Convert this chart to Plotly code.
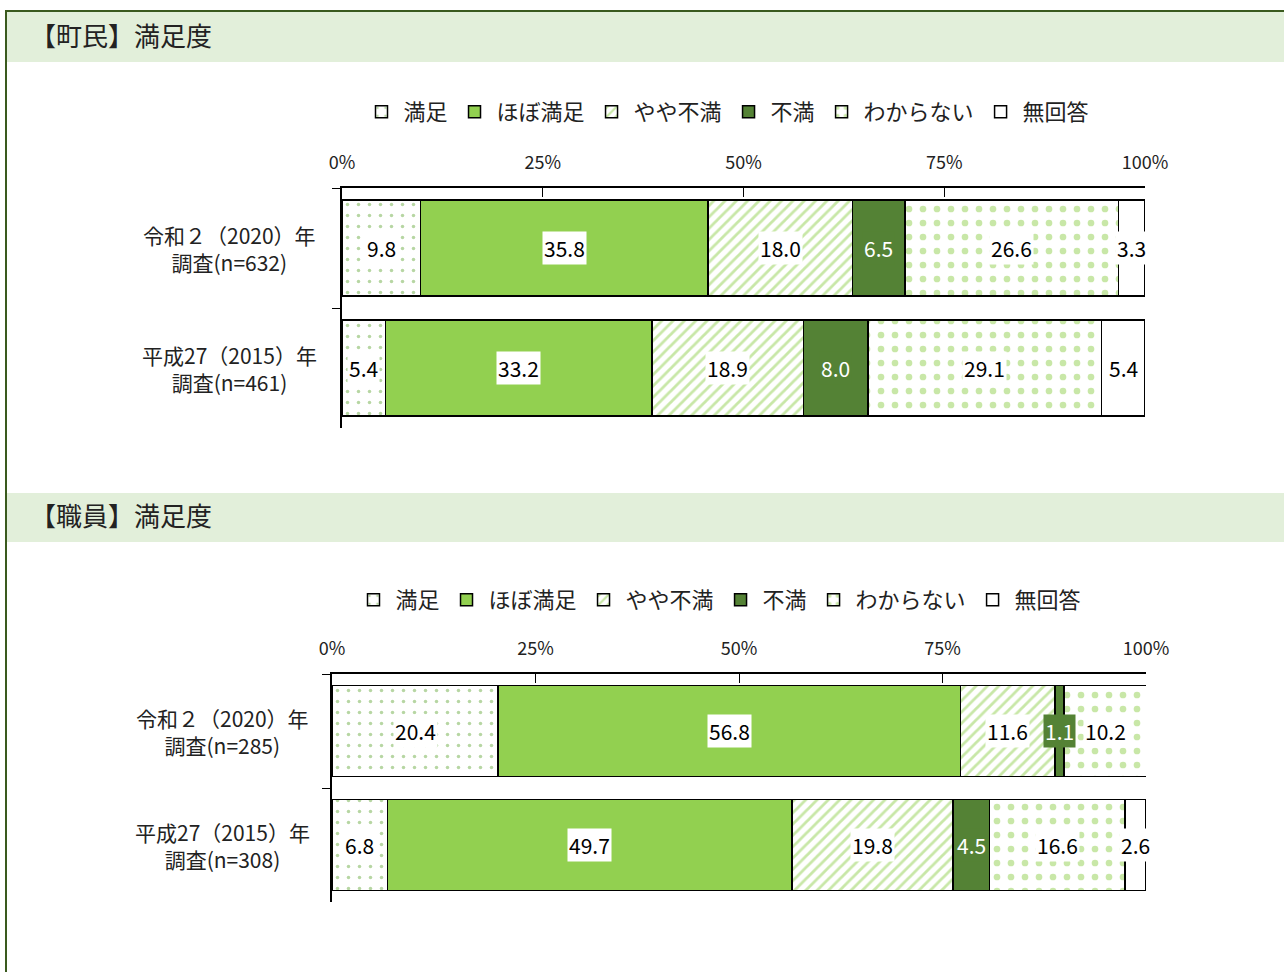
import plotly.graph_objects as go

categories = ["満足", "ほぼ満足", "やや不満", "不満", "わからない", "無回答"]

town_rows = ["r2020", "h2015"]
town_row_labels = ["令和２（2020）年<br>調査(n=632)", "平成27（2015）年<br>調査(n=461)"]
town_values = {
    "満足": [9.8, 5.4],
    "ほぼ満足": [35.8, 33.2],
    "やや不満": [18.0, 18.9],
    "不満": [6.5, 8.0],
    "わからない": [26.6, 29.1],
    "無回答": [3.3, 5.4],
}

staff_rows = ["r2020", "h2015"]
staff_row_labels = ["令和２（2020）年<br>調査(n=285)", "平成27（2015）年<br>調査(n=308)"]
staff_values = {
    "満足": [20.4, 6.8],
    "ほぼ満足": [56.8, 49.7],
    "やや不満": [11.6, 19.8],
    "不満": [1.1, 4.5],
    "わからない": [10.2, 16.6],
    "無回答": [0.0, 2.6],
}

tick_vals = [0, 25, 50, 75, 100]
tick_text = ["0%", "25%", "50%", "75%", "100%"]

FONT = "Noto Sans CJK JP"
DARK = "#548235"
LIGHT = "#92d050"

styles = {
    "満足": dict(color="white", pattern=dict(shape=".", fgcolor="#70ad47", bgcolor="white", size=11, solidity=0.08)),
    "ほぼ満足": dict(color=LIGHT),
    "やや不満": dict(color="white", pattern=dict(shape="/", fgcolor=LIGHT, bgcolor="white", size=8, solidity=0.35)),
    "不満": dict(color=DARK),
    "わからない": dict(color="white", pattern=dict(shape=".", fgcolor=LIGHT, bgcolor="white", size=14, solidity=0.18)),
    "無回答": dict(color="white"),
}

fig = go.Figure()


def add_chart(values, rows, xref, yref, legend, row_labels, label_x):
    for cat in categories:
        st = styles[cat]
        marker = dict(color=st["color"], line=dict(color="black", width=1.5))
        if "pattern" in st:
            marker["pattern"] = st["pattern"]
        fig.add_trace(go.Bar(
            x=values[cat], y=rows, orientation="h", name=cat,
            marker=marker, xaxis=xref, yaxis=yref, legend=legend,
            hoverinfo="skip",
        ))
    # value labels
    for i, r in enumerate(rows):
        cum = 0
        for cat in categories:
            v = values[cat][i]
            if v > 0:
                dark = cat == "不満"
                fig.add_annotation(
                    x=cum + v / 2, y=r, xref=xref, yref=yref,
                    text=f"{v:.1f}", showarrow=False,
                    font=dict(family=FONT, size=21, color="white" if dark else "black"),
                    bgcolor=DARK if dark else "white", borderpad=1,
                )
            cum += v
        fig.add_annotation(
            x=label_x, y=r, xref="paper", yref=yref, text=row_labels[i],
            showarrow=False, align="center", xanchor="center", yanchor="middle",
            font=dict(family=FONT, size=21, color="#222"),
        )


add_chart(town_values, town_rows, "x", "y", "legend", town_row_labels, 229 / 1284)
add_chart(staff_values, staff_rows, "x2", "y2", "legend2", staff_row_labels, 222 / 1284)

xaxis_common = dict(
    range=[0, 100], side="top", tickmode="array", tickvals=tick_vals, ticktext=tick_text,
    ticks="inside", ticklen=9, tickcolor="black", showline=True, linecolor="black",
    linewidth=1.5, showgrid=False, zeroline=False, ticklabelstandoff=10,
    tickfont=dict(family=FONT, size=18, color="#222"), fixedrange=True, automargin=False,
)
yaxis_common = dict(
    type="category", autorange="reversed", showticklabels=False,
    ticks="outside", tickson="boundaries", ticklen=8, tickcolor="black",
    showline=True, linecolor="black", linewidth=1.5, showgrid=False,
    fixedrange=True, automargin=False,
)

W, H = 1284, 972
fig.update_layout(
    width=W, height=H, barmode="stack", bargap=0.2,
    margin=dict(l=0, r=0, t=0, b=0, autoexpand=False),
    paper_bgcolor="white", plot_bgcolor="white",
    font=dict(family=FONT, color="#222"),
    xaxis=dict(domain=[342 / W, 1145 / W], anchor="y", **xaxis_common),
    yaxis=dict(domain=[1 - 428 / H, 1 - 188 / H], anchor="x", **yaxis_common),
    xaxis2=dict(domain=[332 / W, 1146 / W], anchor="y2", **xaxis_common),
    yaxis2=dict(domain=[1 - 902 / H, 1 - 674 / H], anchor="x2", **yaxis_common),
    legend=dict(orientation="h", x=727 / W, xanchor="center", y=1 - 112 / H, yanchor="middle",
                font=dict(family=FONT, size=22), traceorder="normal", itemwidth=34),
    legend2=dict(orientation="h", x=719 / W, xanchor="center", y=1 - 600 / H, yanchor="middle",
                 font=dict(family=FONT, size=22), traceorder="normal", itemwidth=34),
    showlegend=True,
)

# outer frame and section headers
fig.add_shape(type="rect", xref="paper", yref="paper", x0=6 / W, x1=1.01, y0=-0.01, y1=1 - 11 / H,
              line=dict(color="#3a5a1e", width=2), layer="below")
for top, bottom, title in [(12, 62, "【町民】満足度"), (493, 542, "【職員】満足度")]:
    fig.add_shape(type="rect", xref="paper", yref="paper", x0=7 / W, x1=1, y0=1 - bottom / H, y1=1 - top / H,
                  fillcolor="#e2efda", line=dict(width=0), layer="below")
    fig.add_annotation(x=28 / W, y=1 - (top + bottom) / 2 / H, xref="paper", yref="paper",
                       text=title, showarrow=False, xanchor="left", yanchor="middle", yshift=3,
                       font=dict(family=FONT, size=26, color="#222"))

fig.write_html(
    "out.html",
    config={"responsive": False, "displayModeBar": False},
    post_script="document.body.style.margin='0';document.body.style.overflow='hidden';",
)
